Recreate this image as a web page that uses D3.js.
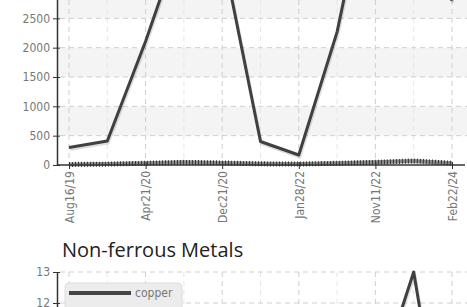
<!DOCTYPE html>
<html>
<head>
<meta charset="utf-8">
<script src="https://cdnjs.cloudflare.com/ajax/libs/d3/7.8.5/d3.min.js"></script>
<style>
body { margin: 0; background: #fff; overflow: hidden; }
.axis text, .legend text { font-family: "DejaVu Sans Condensed", "DejaVu Sans", sans-serif; font-stretch: condensed; fill: #777; }
.title { font-family: "Open Sans", Lato, sans-serif; fill: #222; }
</style>
</head>
<body>
<script>
// categories (one every ~4 months), only every other one is labelled
var dates = ["Aug16/19", "Dec18/19", "Apr21/20", "Aug21/20", "Dec21/20", "Jul06/21",
             "Jan28/22", "Jun20/22", "Nov11/22", "Jun30/23", "Feb22/24"];
var tickDates = ["Aug16/19", "Apr21/20", "Dec21/20", "Jan28/22", "Nov11/22", "Feb22/24"];

// top chart
var upperSeries = [300, 410, 2110, 4000, 3650, 400, 170, 2270, 5400, 4800, 2800];
var lowerSeries = [10, 15, 30, 45, 35, 20, 15, 30, 45, 70, 30];
var yTicks = [0, 500, 1000, 1500, 2000, 2500];

// bottom chart
var metalsTitle = "Non-ferrous Metals";
var copper = [8.5, 8.9, 9.4, 10.1, 10.6, 9.8, 10.2, 9.0, 9.2, 13, 5.6];
var metalTicks = [12, 13];
var legendNames = ["copper"];

var width = 467, height = 307;
var left = 57, right = 467;

var svg = d3.select("body").append("svg")
    .attr("width", width)
    .attr("height", height);

var x = d3.scalePoint().domain(dates).range([69, 452]);

// ---------- top chart ----------
var y = d3.scaleLinear().domain([0, 6000]).range([165, 165 - 6000 * 29.33 / 500]);

var chart1 = svg.append("g");

// alternating bands (one per tick interval, last one runs out of view)
chart1.selectAll(".band")
    .data(yTicks)
    .enter().append("rect")
    .attr("x", left)
    .attr("width", right - left)
    .attr("y", function(d) { return y(d + 500); })
    .attr("height", function(d) { return y(d) - y(d + 500); })
    .style("fill", function(d, i) { return i % 2 ? "#f4f4f4" : "#fff"; });

// grid
chart1.selectAll(".vminor")
    .data(dates.filter(function(d) { return tickDates.indexOf(d) < 0; }))
    .enter().append("line")
    .attr("x1", function(d) { return x(d); }).attr("x2", function(d) { return x(d); })
    .attr("y1", 0).attr("y2", y(0))
    .style("stroke", "#e6e6e6").style("stroke-dasharray", "5,4");
chart1.selectAll(".vmajor")
    .data(tickDates)
    .enter().append("line")
    .attr("x1", function(d) { return x(d); }).attr("x2", function(d) { return x(d); })
    .attr("y1", 0).attr("y2", y(0))
    .style("stroke", "#cfcfcf").style("stroke-dasharray", "5,4");
chart1.selectAll(".hgrid")
    .data(yTicks.slice(1))
    .enter().append("line")
    .attr("x1", left + 3).attr("x2", right)
    .attr("y1", function(d) { return y(d); }).attr("y2", function(d) { return y(d); })
    .style("stroke", "#cfcfcf").style("stroke-dasharray", "5,4");

var line = d3.line()
    .x(function(d, i) { return x(dates[i]); })
    .y(function(d) { return y(d); });

// lower series: thick hatched line
chart1.append("path").datum(lowerSeries)
    .attr("d", line)
    .style("fill", "none").style("stroke", "#8a8a8a").style("stroke-width", 4);
chart1.append("path").datum(lowerSeries)
    .attr("d", line)
    .style("fill", "none").style("stroke", "#3a3a3a").style("stroke-width", 5)
    .style("stroke-dasharray", "1,2");

// upper series with shadow
chart1.append("path").datum(upperSeries)
    .attr("d", line)
    .attr("transform", "translate(1,2)")
    .style("fill", "none").style("stroke", "rgba(0,0,0,0.13)").style("stroke-width", 3);
chart1.append("path").datum(upperSeries)
    .attr("d", line)
    .style("fill", "none").style("stroke", "#404040").style("stroke-width", 3)
    .style("stroke-linejoin", "round");

// axes
var yAxis = chart1.append("g").attr("class", "axis")
    .attr("transform", "translate(" + left + ",0)")
    .call(d3.axisLeft(y).tickValues(yTicks).tickFormat(d3.format("d"))
        .tickSize(4).tickSizeOuter(0).tickPadding(3));
yAxis.select(".domain").style("stroke", "#333").style("stroke-width", 1.5);
yAxis.selectAll(".tick line").attr("x1", 3).style("stroke", "#333");
yAxis.selectAll("text").style("font-size", "12px");

chart1.append("line")
    .attr("x1", left).attr("x2", 465)
    .attr("y1", y(0)).attr("y2", y(0))
    .style("stroke", "#333").style("stroke-width", 1.5);

var xAxis = chart1.append("g").attr("class", "axis")
    .attr("transform", "translate(0," + y(0) + ")")
    .call(d3.axisBottom(x).tickValues(tickDates).tickSize(4).tickSizeOuter(0));
xAxis.select(".domain").remove();
xAxis.selectAll(".tick line").attr("y1", -3).style("stroke", "#333");
xAxis.selectAll("text")
    .attr("transform", "rotate(-90)")
    .attr("text-anchor", "end")
    .attr("x", -6).attr("y", 0).attr("dy", "0.35em")
    .style("font-size", "12px");

// ---------- bottom chart ----------
var y2 = d3.scaleLinear().domain([4, 13]).range([272 + 9 * 31, 272]);
var chart2 = svg.append("g");

chart2.append("text").attr("class", "title")
    .attr("x", 62).attr("y", 257)
    .style("font-size", "20px")
    .text(metalsTitle);

chart2.selectAll(".vminor")
    .data(dates.filter(function(d) { return tickDates.indexOf(d) < 0; }))
    .enter().append("line")
    .attr("x1", function(d) { return x(d); }).attr("x2", function(d) { return x(d); })
    .attr("y1", y2(13)).attr("y2", height)
    .style("stroke", "#e6e6e6").style("stroke-dasharray", "5,4");
chart2.selectAll(".vmajor")
    .data(tickDates)
    .enter().append("line")
    .attr("x1", function(d) { return x(d); }).attr("x2", function(d) { return x(d); })
    .attr("y1", y2(13)).attr("y2", height)
    .style("stroke", "#cfcfcf").style("stroke-dasharray", "5,4");
chart2.selectAll(".hgrid")
    .data(metalTicks)
    .enter().append("line")
    .attr("x1", left + 3).attr("x2", right)
    .attr("y1", function(d) { return y2(d); }).attr("y2", function(d) { return y2(d); })
    .style("stroke", "#cfcfcf").style("stroke-dasharray", "5,4");

var line2 = d3.line()
    .x(function(d, i) { return x(dates[i]); })
    .y(function(d) { return y2(d); });

chart2.append("path").datum(copper)
    .attr("d", line2)
    .attr("transform", "translate(1,2)")
    .style("fill", "none").style("stroke", "rgba(0,0,0,0.13)").style("stroke-width", 3);
chart2.append("path").datum(copper)
    .attr("d", line2)
    .style("fill", "none").style("stroke", "#404040").style("stroke-width", 3)
    .style("stroke-linejoin", "round");

var yAxis2 = chart2.append("g").attr("class", "axis")
    .attr("transform", "translate(" + left + ",0)")
    .call(d3.axisLeft(y2).tickValues(metalTicks).tickFormat(d3.format("d"))
        .tickSize(4).tickSizeOuter(0).tickPadding(3));
yAxis2.select(".domain").style("stroke", "#333").style("stroke-width", 1.5);
yAxis2.selectAll(".tick line").attr("x1", 3).style("stroke", "#333");
yAxis2.selectAll("text").style("font-size", "12px");

// legend
var legend = chart2.append("g").attr("class", "legend");
legend.append("rect")
    .attr("x", 65).attr("y", 283).attr("width", 117).attr("height", 40).attr("rx", 4)
    .style("fill", "#ececec").style("stroke", "#dcdcdc");
legend.selectAll(".item")
    .data(legendNames)
    .enter().append("g")
    .each(function(d, i) {
        var g = d3.select(this);
        g.append("line")
            .attr("x1", 69).attr("x2", 131)
            .attr("y1", 293 + i * 16).attr("y2", 293 + i * 16)
            .style("stroke", "#444").style("stroke-width", 4);
        g.append("text")
            .attr("x", 135).attr("y", 297 + i * 16)
            .style("font-size", "12px")
            .text(d);
    });
</script>
</body>
</html>
